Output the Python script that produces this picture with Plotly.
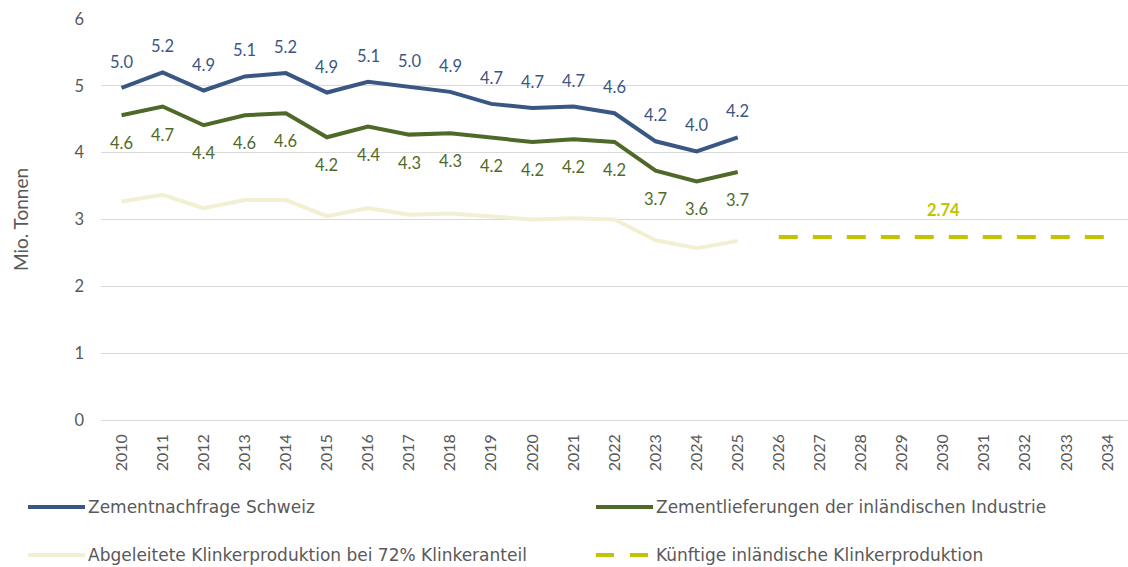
import plotly.graph_objects as go

years = [str(y) for y in range(2010, 2035)]
hist_years = [str(y) for y in range(2010, 2026)]
future_years = [str(y) for y in range(2026, 2035)]

nachfrage = [4.97, 5.20, 4.93, 5.14, 5.19, 4.90, 5.06, 4.98, 4.91, 4.73, 4.67, 4.69, 4.59, 4.17, 4.02, 4.23]
lieferungen = [4.56, 4.69, 4.41, 4.56, 4.59, 4.23, 4.39, 4.27, 4.29, 4.22, 4.16, 4.20, 4.16, 3.73, 3.57, 3.71]
klinker_abgeleitet = [3.27, 3.37, 3.17, 3.29, 3.29, 3.05, 3.17, 3.07, 3.09, 3.04, 3.00, 3.02, 3.00, 2.69, 2.57, 2.68]
klinker_kuenftig = [2.74, 2.74, 2.74, 2.74, 2.74, 2.74, 2.74, 2.74, 2.74]
kuenftig_label_year = "2030"

names = ["Zementnachfrage Schweiz",
         "Zementlieferungen der inländischen Industrie",
         "Abgeleitete Klinkerproduktion bei 72% Klinkeranteil",
         "Künftige inländische Klinkerproduktion"]

C_BLUE = "#3A5683"
C_GREEN = "#4F6A28"
C_LIGHT = "#F2F0D2"
C_YEL = "#C3C300"
C_TEXT = "#595959"
FONT = "Lato"
LEG_FONT = "DejaVu Sans"

W, H = 1128, 567
L, R, T, B = 101, 0, 19, 147
PW, PH = W - L - R, H - T - B

fig = go.Figure()
fig.add_trace(go.Scatter(x=hist_years, y=klinker_abgeleitet, mode="lines", name=names[2],
                         line=dict(color=C_LIGHT, width=4), showlegend=False))
fig.add_trace(go.Scatter(x=hist_years, y=lieferungen, mode="lines", name=names[1],
                         line=dict(color=C_GREEN, width=4), showlegend=False))
fig.add_trace(go.Scatter(x=hist_years, y=nachfrage, mode="lines", name=names[0],
                         line=dict(color=C_BLUE, width=4), showlegend=False))
fig.add_trace(go.Scatter(x=future_years, y=klinker_kuenftig, mode="lines", name=names[3],
                         line=dict(color=C_YEL, width=4, dash="19px,15px"), showlegend=False))

ann = []
for x, v in zip(hist_years, nachfrage):
    ann.append(dict(x=years.index(x), y=v, text=f"{v:.1f}", showarrow=False, yshift=26,
                    font=dict(family=FONT, size=16.5, color=C_BLUE)))
for x, v in zip(hist_years, lieferungen):
    ann.append(dict(x=years.index(x), y=v, text=f"{v:.1f}", showarrow=False, yshift=-28,
                    font=dict(family=FONT, size=16.5, color=C_GREEN)))
idx = future_years.index(kuenftig_label_year)
ann.append(dict(x=years.index(kuenftig_label_year), y=klinker_kuenftig[idx],
                text=f"<b>{klinker_kuenftig[idx]:.2f}</b>",
                showarrow=False, yshift=27, font=dict(family=FONT, size=16.5, color=C_YEL)))

def px_x(p):
    return (p - L) / PW

def px_y(p):
    return (H - B - p) / PH

shapes = []
legend_items = [
    (names[0], C_BLUE, "solid", 28, 507),
    (names[1], C_GREEN, "solid", 596, 507),
    (names[2], C_LIGHT, "solid", 28, 555),
    (names[3], C_YEL, "18px,16px", 596, 555),
]
for name, col, dash, x0, yy in legend_items:
    shapes.append(dict(type="line", xref="paper", yref="paper",
                       x0=px_x(x0), x1=px_x(x0 + 57), y0=px_y(yy), y1=px_y(yy),
                       line=dict(color=col, width=4, dash=dash)))
    ann.append(dict(xref="paper", yref="paper", x=px_x(x0 + 58), y=px_y(yy), text=name,
                    showarrow=False, xanchor="left", yanchor="middle",
                    font=dict(family=LEG_FONT, size=17, color=C_TEXT)))

fig.update_layout(
    width=W, height=H,
    margin=dict(l=L, r=R, t=T, b=B, autoexpand=False),
    paper_bgcolor="white", plot_bgcolor="white",
    font=dict(family=FONT, color=C_TEXT),
    annotations=ann, shapes=shapes, showlegend=False,
    xaxis=dict(type="category", categoryorder="array", categoryarray=years,
               range=[-0.5, len(years) - 0.5], tickangle=-90, showgrid=False,
               showline=False, zeroline=False, ticks="", ticklabelstandoff=10,
               tickfont=dict(family=FONT, size=16, color=C_TEXT)),
    yaxis=dict(range=[0, 6], dtick=1, showgrid=True, gridcolor="#D9D9D9", gridwidth=1,
               zeroline=True, zerolinecolor="#D9D9D9", zerolinewidth=1,
               ticks="", ticklabelstandoff=16,
               tickfont=dict(family=FONT, size=16.5, color=C_TEXT),
               title=dict(text="Mio. Tonnen", standoff=40,
                          font=dict(family=FONT, size=19, color=C_TEXT))),
)

fig.write_html("out.html", config={"displayModeBar": False},
               post_script="document.body.style.margin='0';document.body.style.overflow='hidden';")
